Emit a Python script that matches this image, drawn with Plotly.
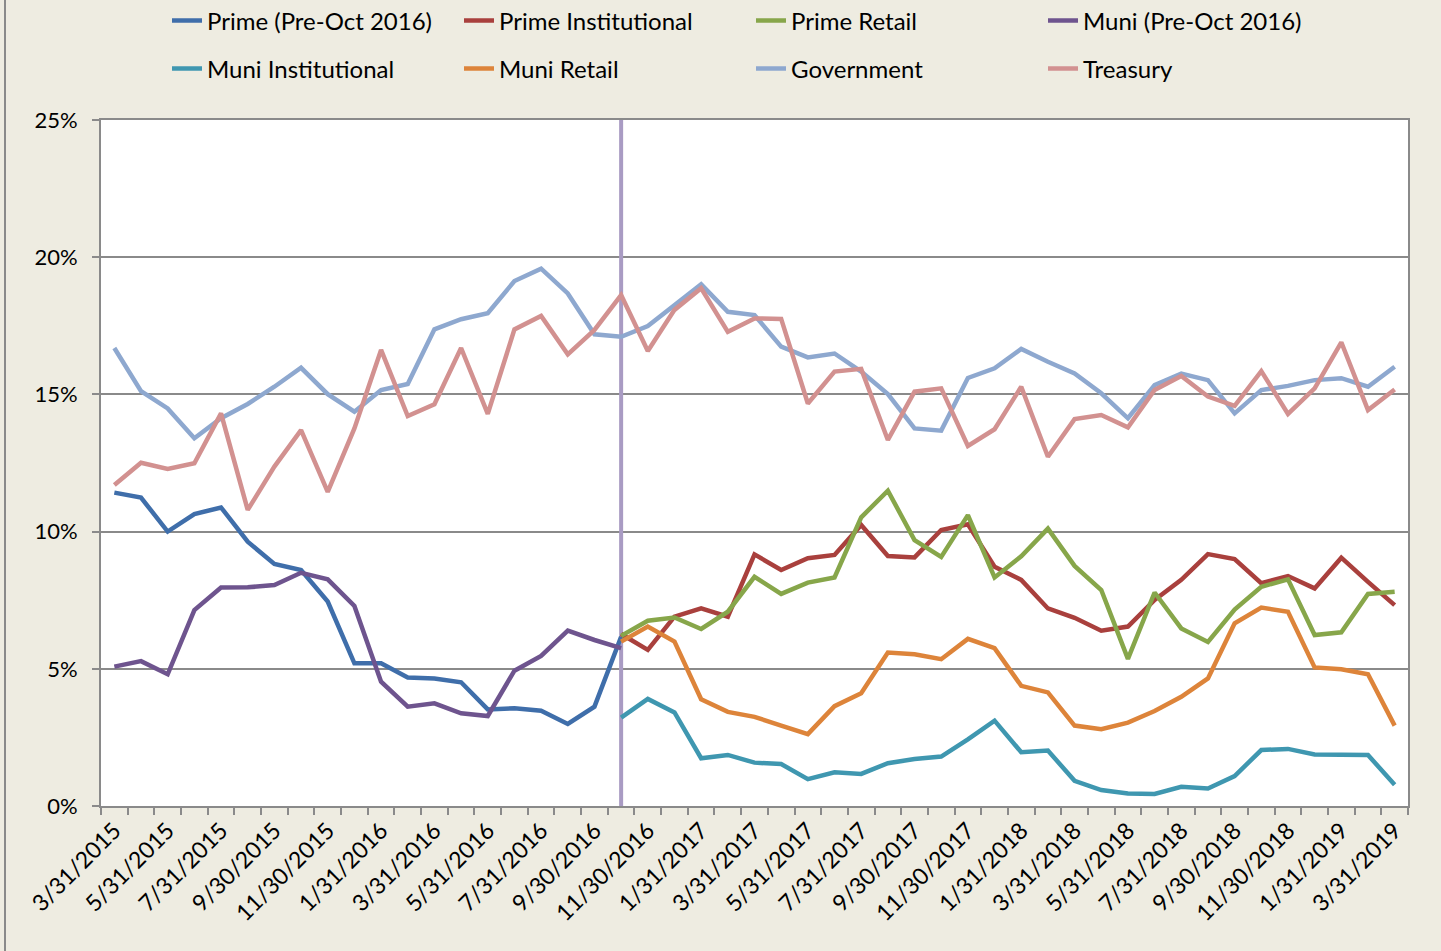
import plotly.graph_objects as go
import pandas as pd

dates = [d.strftime("%-m/%-d/%Y") for d in pd.date_range("2015-03-31", "2019-03-31", freq="ME")]

N = None
prime_pre = [11.42, 11.24, 10.0, 10.64, 10.88, 9.63, 8.82, 8.60, 7.45, 5.20, 5.20, 4.68, 4.65, 4.51, 3.52, 3.56, 3.47, 2.99, 3.62, 6.17] + [N] * 29
muni_pre = [5.08, 5.28, 4.80, 7.14, 7.96, 7.97, 8.05, 8.50, 8.26, 7.29, 4.53, 3.62, 3.74, 3.38, 3.28, 4.93, 5.47, 6.39, 6.05, 5.75] + [N] * 29
prime_inst = [N] * 19 + [6.27, 5.69, 6.90, 7.20, 6.90, 9.17, 8.60, 9.03, 9.15, 10.24, 9.11, 9.06, 10.06, 10.27, 8.72,
                         8.24, 7.20, 6.86, 6.39, 6.54, 7.51, 8.24, 9.18, 9.00, 8.12, 8.38, 7.93, 9.05, 8.17, 7.32]
prime_retail = [N] * 19 + [6.20, 6.75, 6.87, 6.45, 7.08, 8.35, 7.73, 8.14, 8.33, 10.52, 11.49, 9.69, 9.08, 10.60, 8.33,
                           9.10, 10.11, 8.75, 7.87, 5.36, 7.78, 6.47, 5.98, 7.16, 7.99, 8.26, 6.23, 6.33, 7.73, 7.81]
muni_inst = [N] * 19 + [3.22, 3.90, 3.41, 1.74, 1.86, 1.58, 1.53, 0.98, 1.23, 1.17, 1.56, 1.71, 1.80, 2.43, 3.11,
                        1.96, 2.02, 0.92, 0.58, 0.46, 0.44, 0.70, 0.64, 1.09, 2.04, 2.08, 1.88, 1.88, 1.86, 0.77]
muni_retail = [N] * 19 + [5.99, 6.54, 5.99, 3.89, 3.43, 3.25, 2.93, 2.62, 3.64, 4.11, 5.59, 5.53, 5.35, 6.09, 5.75,
                          4.38, 4.14, 2.93, 2.80, 3.04, 3.46, 3.98, 4.65, 6.66, 7.23, 7.08, 5.05, 4.98, 4.80, 2.93]
government = [16.69, 15.12, 14.49, 13.40, 14.13, 14.65, 15.28, 15.97, 15.01, 14.37, 15.16, 15.38, 17.37, 17.74, 17.96,
              19.13, 19.58, 18.68, 17.19, 17.10, 17.49, 18.26, 19.01, 18.01, 17.89, 16.74, 16.35, 16.49, 15.83, 15.01,
              13.76, 13.68, 15.60, 15.95, 16.66, 16.19, 15.76, 15.04, 14.13, 15.34, 15.76, 15.52, 14.31, 15.16, 15.31,
              15.52, 15.59, 15.28, 16.01]
treasury = [11.70, 12.51, 12.28, 12.49, 14.31, 10.79, 12.37, 13.70, 11.45, 13.76, 16.62, 14.21, 14.64, 16.69, 14.29,
            17.37, 17.86, 16.46, 17.35, 18.62, 16.58, 18.08, 18.87, 17.28, 17.77, 17.75, 14.67, 15.83, 15.93, 13.34,
            15.10, 15.22, 13.12, 13.73, 15.28, 12.73, 14.10, 14.25, 13.80, 15.16, 15.67, 14.92, 14.58, 15.85, 14.29,
            15.22, 16.90, 14.43, 15.18]

series = [
    ("Prime (Pre-Oct 2016)", prime_pre, "#3F6EAA", "legend"),
    ("Prime Institutional", prime_inst, "#A9403D", "legend"),
    ("Prime Retail", prime_retail, "#87A64A", "legend"),
    ("Muni (Pre-Oct 2016)", muni_pre, "#6E548E", "legend"),
    ("Muni Institutional", muni_inst, "#3F97B0", "legend2"),
    ("Muni Retail", muni_retail, "#DD843A", "legend2"),
    ("Government", government, "#8EA8CF", "legend2"),
    ("Treasury", treasury, "#D29190", "legend2"),
]

FONT = "Lato"
fig = go.Figure()

# vertical divider at the last pre-Oct 2016 observation (drawn first so data lines sit on top)
split_idx = max(i for i, v in enumerate(prime_pre) if v is not None)
fig.add_trace(go.Scatter(x=[dates[split_idx], dates[split_idx]], y=[0, 25], mode="lines",
                         line=dict(color="#A99BC3", width=4), showlegend=False, hoverinfo="skip"))

for name, vals, color, lg in series:
    fig.add_trace(go.Scatter(x=dates, y=vals, name=name, mode="lines",
                             line=dict(color=color, width=4.5), legend=lg,
                             connectgaps=False))

W, H = 1441, 951
L, R, T, B = 101, 33, 120, 145
pw, ph = W - L - R, H - T - B
# outer left border of the chart area
fig.add_shape(type="line", xref="paper", yref="paper", x0=(5 - L) / pw, x1=(5 - L) / pw,
              y0=-(B) / ph, y1=(H - B) / ph, line=dict(color="#8A8A8A", width=2))

legend_common = dict(orientation="h", xanchor="left", yanchor="middle",
                     font=dict(family=FONT, size=24, color="#000000"),
                     bgcolor="rgba(0,0,0,0)", entrywidth=247, entrywidthmode="pixels",
                     tracegroupgap=0, itemclick=False)

fig.update_layout(
    width=W, height=H,
    margin=dict(l=L, r=R, t=T, b=B, pad=0, autoexpand=False),
    paper_bgcolor="#EEECE1",
    plot_bgcolor="#FFFFFF",
    font=dict(family=FONT, size=22, color="#000000"),
    legend=dict(x=(167 - L) / pw, y=(H - B - 21) / ph, **legend_common),
    legend2=dict(x=(167 - L) / pw, y=(H - B - 69) / ph, **legend_common),
    xaxis=dict(
        type="category",
        categoryorder="array",
        categoryarray=dates,
        range=[-0.5, len(dates) - 0.5],
        tickmode="array",
        tickvals=dates,
        ticktext=[d if i % 2 == 0 else "" for i, d in enumerate(dates)],
        tickson="boundaries",
        ticks="outside", ticklen=7, tickwidth=2, tickcolor="#8A8A8A",
        tickangle=-45,
        tickfont=dict(family=FONT, size=23, color="#000000"),
        showgrid=False,
        showline=True, linecolor="#8A8A8A", linewidth=2, mirror=True,
        zeroline=False,
    ),
    yaxis=dict(
        range=[0, 25], dtick=5, tick0=0,
        ticksuffix="%",
        ticks="outside", ticklen=7, tickwidth=2, tickcolor="#8A8A8A",
        tickfont=dict(family=FONT, size=22, color="#000000"),
        ticklabelstandoff=10,
        showgrid=True, gridcolor="#8A8A8A", gridwidth=2,
        showline=True, linecolor="#8A8A8A", linewidth=2, mirror=True,
        zeroline=False,
    ),
    showlegend=True,
)

fig.write_html(
    "out.html",
    config={"displayModeBar": False},
    post_script="document.body.style.margin='0';document.body.style.overflow='hidden';"
                "document.body.style.background='#EEECE1';",
)
